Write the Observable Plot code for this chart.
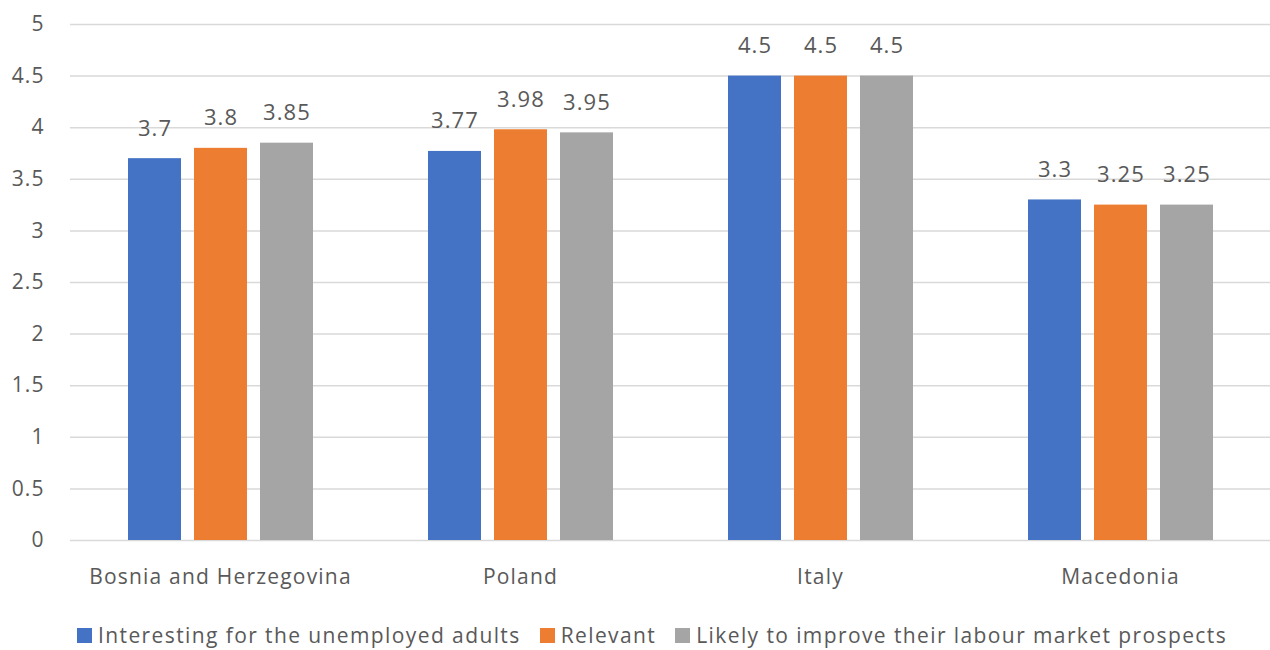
<!DOCTYPE html>
<html>
<head>
<meta charset="utf-8">
<script src="https://cdn.jsdelivr.net/npm/d3@7"></script>
<script src="https://cdn.jsdelivr.net/npm/@observablehq/plot@0.6"></script>
<style>
  html, body { margin: 0; padding: 0; background: #fff; }
  body { width: 1270px; height: 650px; overflow: hidden; font-family: "Open Sans", sans-serif; }
  #legend { display: flex; align-items: center; padding-left: 77px; height: 30px; margin-top: 20px; color: #595959; font-size: 21px; letter-spacing: 1.4px; white-space: nowrap; }
  #legend .item { display: flex; align-items: center; margin-right: 19px; }
  #legend .sw { width: 15px; height: 15px; margin-right: 6px; }
</style>
</head>
<body>
<div id="chart"></div>
<div id="legend"></div>
<script>
const countries = ["Bosnia and Herzegovina", "Poland", "Italy", "Macedonia"];
const series = ["Interesting for the unemployed adults", "Relevant", "Likely to improve their labour market prospects"];
const interesting = [3.7, 3.77, 4.5, 3.3];
const relevant = [3.8, 3.98, 4.5, 3.25];
const likely = [3.85, 3.95, 4.5, 3.25];
const colors = ["#4472C4", "#ED7D31", "#A5A5A5"];
const yTicks = [0, 0.5, 1, 1.5, 2, 2.5, 3, 3.5, 4, 4.5, 5];

const seriesValues = [interesting, relevant, likely];
const data = [];
countries.forEach((c, i) => {
  series.forEach((s, j) => {
    data.push({country: c, series: s, value: seriesValues[j][i]});
  });
});

const chart = Plot.plot({
  width: 1270,
  height: 600,
  marginLeft: 70,
  marginRight: 0,
  marginTop: 24,
  marginBottom: 60,
  style: {fontFamily: "Open Sans, sans-serif", fontSize: "21px", color: "#595959", background: "#fff", letterSpacing: "1.1px"},
  fx: {domain: countries, padding: 0, label: null, axis: "bottom", tickSize: 0, tickPadding: 29},
  x: {domain: series, paddingInner: 0.197, paddingOuter: 0.871, axis: null},
  y: {domain: [0, 5], ticks: yTicks, label: null, tickSize: 0, tickPadding: 26, tickFormat: d => String(d)},
  color: {domain: series, range: colors},
  marks: [
    Plot.gridY(yTicks, {stroke: "#D9D9D9", strokeOpacity: 1, strokeWidth: 1.5}),
    Plot.barY(data, {fx: "country", x: "series", y: "value", fill: "series"}),
    Plot.text(data, {fx: "country", x: "series", y: "value", text: d => String(d.value), dy: -30, fill: "#595959", fontSize: 22})
  ]
});
chart.querySelectorAll('g[aria-label="fx-axis tick label"] text').forEach(t => t.style.letterSpacing = "1.2px");
document.getElementById("chart").appendChild(chart);

const legend = document.getElementById("legend");
series.forEach((s, j) => {
  const item = document.createElement("div");
  item.className = "item";
  const sw = document.createElement("div");
  sw.className = "sw";
  sw.style.background = colors[j];
  const label = document.createElement("span");
  label.textContent = s;
  item.appendChild(sw);
  item.appendChild(label);
  legend.appendChild(item);
});
</script>
</body>
</html>
